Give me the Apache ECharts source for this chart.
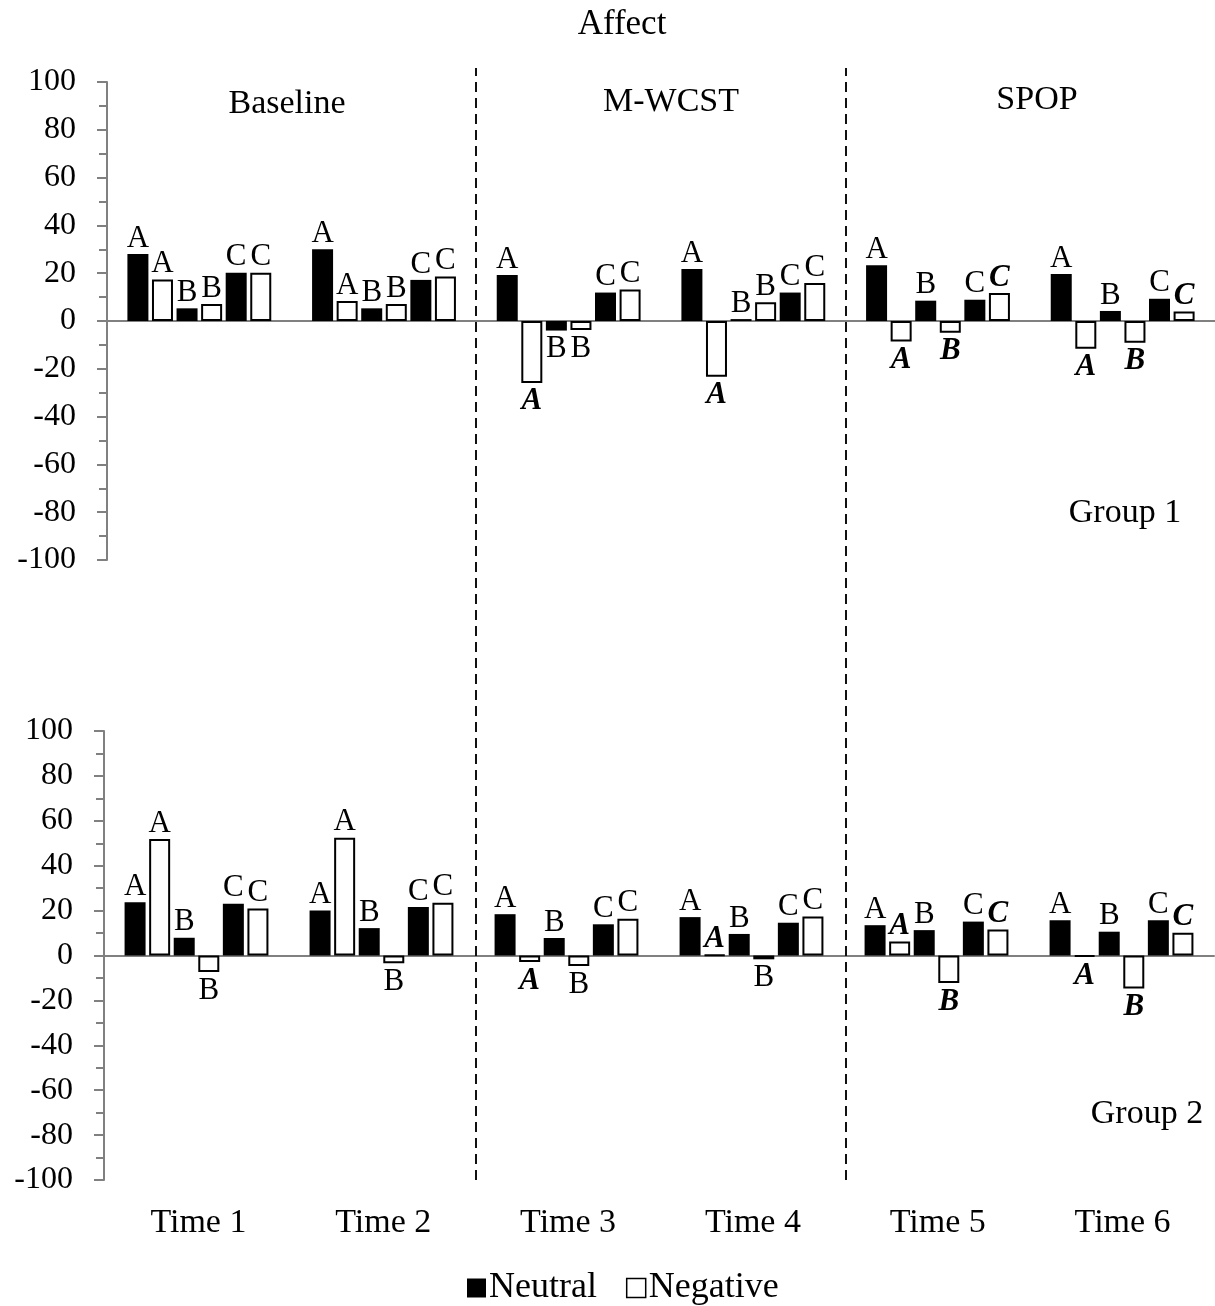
<!DOCTYPE html>
<html>
<head>
<meta charset="utf-8">
<script src="https://cdn.jsdelivr.net/npm/echarts@6/dist/echarts.min.js"></script>
<style>
html,body{margin:0;padding:0;background:#fff;}
#chart{width:1215px;height:1306px;}
</style>
</head>
<body>
<div id="chart"></div>
<script>
// ---------- data ----------
const categories = ['Time 1', 'Time 2', 'Time 3', 'Time 4', 'Time 5', 'Time 6'];
const seriesKinds = ['Neutral', 'Negative', 'Neutral', 'Negative', 'Neutral', 'Negative'];
const barLetters = ['A', 'A', 'B', 'B', 'C', 'C'];
const yTicks = { min: -100, max: 100, interval: 20 };
const phaseBoundaries = [2, 4]; // separators between Baseline | M-WCST | SPOP (in category units)

// Group 1
const g1NeutralA  = [28, 30, 19.2, 21.8, 23.3, 19.7];
const g1NegativeA = [17.4, 8.4, -25.9, -23.3, -8.6, -11.6];
const g1NeutralB  = [5.3, 5.3, -4, 0.8, 8.5, 4.2];
const g1NegativeB = [7.1, 7.1, -3.8, 7.8, -4.9, -9.1];
const g1NeutralC  = [20.2, 17.2, 11.9, 11.9, 8.9, 9.3];
const g1NegativeC = [20.2, 18.6, 13.2, 15.9, 11.7, 4.0];
// letters shown bold italic (1) or plain (0)
const g1Emph = [
  [0,0,0,0,0,0],
  [0,0,1,1,1,1],
  [0,0,0,0,0,0],
  [0,0,0,0,1,1],
  [0,0,0,0,0,0],
  [0,0,0,0,1,1]
];

// Group 2
const g2NeutralA  = [23.7, 20, 18.4, 17.1, 13.5, 15.7];
const g2NegativeA = [51.9, 52.5, -2.9, 0.3, 6.2, -0.5];
const g2NeutralB  = [7.9, 12.2, 7.8, 9.6, 11.3, 10.6];
const g2NegativeB = [-7.3, -3.5, -4.7, -1.7, -12.3, -14.7];
const g2NeutralC  = [23.1, 21.6, 13.9, 14.6, 15.1, 15.7];
const g2NegativeC = [20.9, 23.5, 16.4, 17.4, 11.6, 10.1];
const g2Emph = [
  [0,0,0,0,0,0],
  [0,0,1,1,1,1],
  [0,0,0,0,0,0],
  [0,0,0,0,1,1],
  [0,0,0,0,0,0],
  [0,0,0,0,1,1]
];

const group1 = [g1NeutralA, g1NegativeA, g1NeutralB, g1NegativeB, g1NeutralC, g1NegativeC];
const group2 = [g2NeutralA, g2NegativeA, g2NeutralB, g2NegativeB, g2NeutralC, g2NegativeC];

// ---------- styling ----------
const FONT = '"Liberation Serif", "Times New Roman", serif';
const AXIS_GRAY = '#808080';

function buildSeries(groupVals, emph, axisIdx) {
  return groupVals.map((vals, si) => {
    const kind = seriesKinds[si];
    return {
      name: kind,
      type: 'bar',
      xAxisIndex: axisIdx,
      yAxisIndex: axisIdx,
      barWidth: 21,
      barGap: '17%',
      itemStyle: kind === 'Neutral'
        ? { color: '#000', borderColor: '#000', borderWidth: 0 }
        : { color: '#fff', borderColor: '#000', borderWidth: 2 },
      data: vals.map((v, i) => {
        const e = emph[si][i] === 1;
        return {
          value: v,
          label: {
            show: true,
            position: v < 0 ? 'bottom' : 'top',
            distance: v < 0 ? 3 : 0,
            formatter: barLetters[si],
            fontFamily: FONT,
            fontSize: 31,
            color: '#000',
            fontStyle: e ? 'italic' : 'normal',
            fontWeight: e ? 'bold' : 'normal'
          }
        };
      })
    };
  });
}

function panelYAxis(gridIndex) {
  return {
    type: 'value',
    gridIndex: gridIndex,
    min: yTicks.min,
    max: yTicks.max,
    interval: yTicks.interval,
    axisLine: { show: true, lineStyle: { color: AXIS_GRAY, width: 2 } },
    axisTick: { show: true, inside: false, length: 10, lineStyle: { color: AXIS_GRAY, width: 2 } },
    minorTick: { show: true, splitNumber: 2, length: 8, lineStyle: { color: AXIS_GRAY, width: 2 } },
    splitLine: { show: false },
    axisLabel: { fontFamily: FONT, fontSize: 32, color: '#000', margin: 31 }
  };
}

function panelXAxis(gridIndex) {
  return {
    type: 'category',
    gridIndex: gridIndex,
    data: categories,
    axisLine: { show: true, onZero: true, lineStyle: { color: AXIS_GRAY, width: 2 } },
    axisTick: { show: false },
    axisLabel: { show: false },
    splitLine: { show: false }
  };
}

const chart = echarts.init(document.getElementById('chart'), null, { renderer: 'canvas' });

const option = {
  backgroundColor: '#fff',
  animation: false,
  grid: [
    { left: 107, top: 82, width: 1108, height: 478 },
    { left: 104, top: 731, width: 1110, height: 449 },
    { left: 106, top: 68, width: 1109, height: 1112 }
  ],
  xAxis: [
    panelXAxis(0),
    panelXAxis(1),
    {
      type: 'category',
      gridIndex: 2,
      data: categories,
      axisLine: { show: false },
      axisTick: { show: false },
      axisLabel: { show: true, fontFamily: FONT, fontSize: 34, color: '#000', margin: 26 },
      splitLine: { show: false }
    },
    {
      type: 'value',
      gridIndex: 2,
      min: 0,
      max: categories.length,
      show: false
    }
  ],
  yAxis: [
    panelYAxis(0),
    panelYAxis(1),
    { type: 'value', gridIndex: 2, min: 0, max: 1, show: false }
  ],
  legend: {
    data: [
      { name: 'Neutral', itemStyle: { color: '#000', borderColor: '#000', borderWidth: 0 } },
      { name: 'Negative', itemStyle: { color: '#fff', borderColor: '#000', borderWidth: 1.5 } }
    ],
    icon: 'rect',
    left: 467,
    top: 1270,
    itemWidth: 19,
    itemHeight: 19,
    itemGap: 29,
    padding: 0,
    textStyle: { fontFamily: FONT, fontSize: 36, color: '#000', padding: [0, 0, 0, -2] }
  },
  graphic: [
    { type: 'text', x: 622, y: 25, style: { text: 'Affect', font: '35px ' + FONT, fill: '#000', align: 'center', verticalAlign: 'middle' } },
    { type: 'text', x: 287, y: 104, style: { text: 'Baseline', font: '34px ' + FONT, fill: '#000', align: 'center', verticalAlign: 'middle' } },
    { type: 'text', x: 671, y: 102, style: { text: 'M-WCST', font: '34px ' + FONT, fill: '#000', align: 'center', verticalAlign: 'middle' } },
    { type: 'text', x: 1037, y: 100, style: { text: 'SPOP', font: '34px ' + FONT, fill: '#000', align: 'center', verticalAlign: 'middle' } },
    { type: 'text', x: 1125, y: 513, style: { text: 'Group 1', font: '34px ' + FONT, fill: '#000', align: 'center', verticalAlign: 'middle' } },
    { type: 'text', x: 1147, y: 1114, style: { text: 'Group 2', font: '34px ' + FONT, fill: '#000', align: 'center', verticalAlign: 'middle' } }
  ],
  series: [].concat(
    buildSeries(group1, g1Emph, 0),
    buildSeries(group2, g2Emph, 1),
    [{
      name: 'separators',
      type: 'line',
      xAxisIndex: 3,
      yAxisIndex: 2,
      data: [],
      silent: true,
      markLine: {
        silent: true,
        symbol: ['none', 'none'],
        label: { show: false },
        lineStyle: { color: '#111', width: 2, type: [10, 6] },
        data: phaseBoundaries.map(b => ({ xAxis: b }))
      }
    }]
  )
};

chart.setOption(option);
</script>
</body>
</html>
